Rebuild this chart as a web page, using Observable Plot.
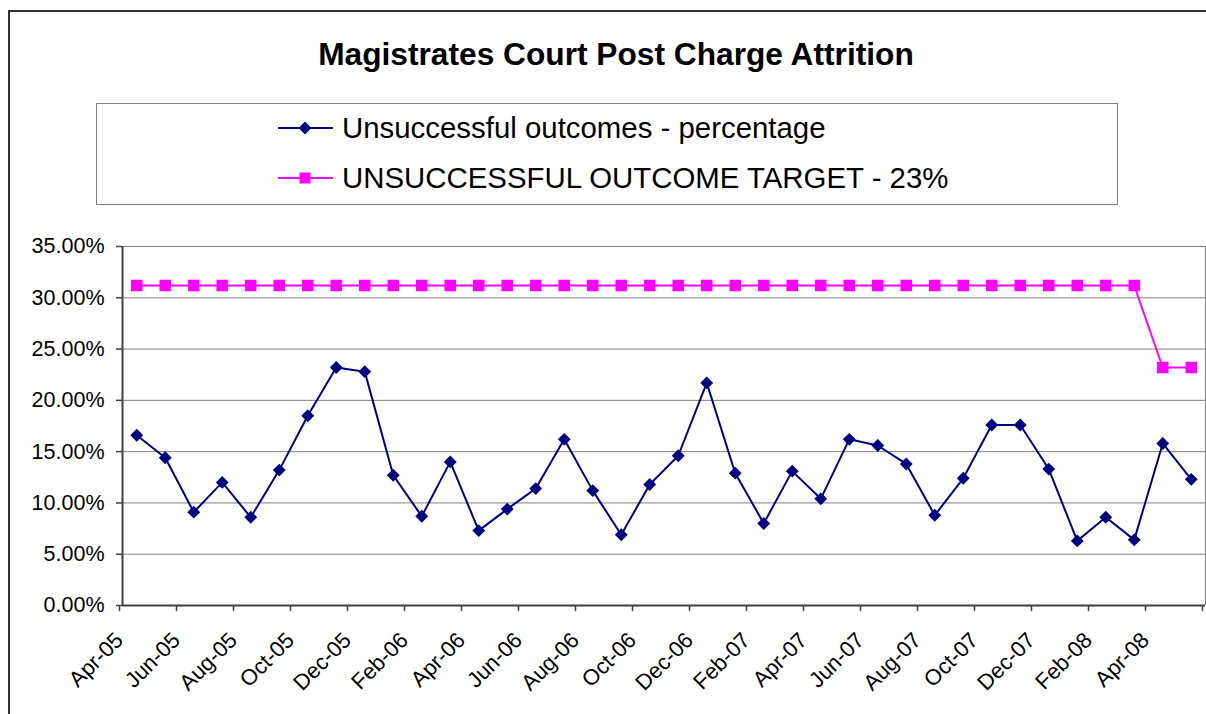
<!DOCTYPE html>
<html>
<head>
<meta charset="utf-8">
<script src="https://cdn.jsdelivr.net/npm/d3@7"></script>
<script src="https://cdn.jsdelivr.net/npm/@observablehq/plot@0.6"></script>
<style>
  html, body { margin: 0; padding: 0; background: #fff; }
  body { width: 1206px; height: 714px; overflow: hidden; position: relative; font-family: "Liberation Sans", Arial, sans-serif; }
  #frame { position: absolute; left: 8px; top: 10px; width: 1300px; height: 800px; border-left: 2px solid #333; border-top: 2px solid #333; box-sizing: border-box; }
  #title { position: absolute; left: 0; width: 1232px; top: 36px; line-height: 36px; font-size: 31.7px; font-weight: bold; text-align: center; color: #000; }
  #legend { position: absolute; left: 96px; top: 103px; width: 1022px; height: 102px; border: 1px solid #808080; box-sizing: border-box; }
  .item { position: absolute; left: 181px; height: 40px; display: flex; align-items: center; font-size: 29.4px; color: #000; white-space: nowrap; }
  .item svg { margin-right: 9px; }
  #chart { position: absolute; left: 0; top: 220px; }
</style>
</head>
<body>
<div id="frame"></div>
<div id="title">Magistrates Court Post Charge Attrition</div>
<div id="legend"></div>
<div id="chart"></div>
<script>
// ---- data ----
const months = [
  "Apr-05","May-05","Jun-05","Jul-05","Aug-05","Sep-05","Oct-05","Nov-05","Dec-05",
  "Jan-06","Feb-06","Mar-06","Apr-06","May-06","Jun-06","Jul-06","Aug-06","Sep-06","Oct-06","Nov-06","Dec-06",
  "Jan-07","Feb-07","Mar-07","Apr-07","May-07","Jun-07","Jul-07","Aug-07","Sep-07","Oct-07","Nov-07","Dec-07",
  "Jan-08","Feb-08","Mar-08","Apr-08","May-08"
];
const outcomes = [
  16.6, 14.4, 9.1, 12.0, 8.6, 13.2, 18.5, 23.2, 22.8,
  12.7, 8.7, 14.0, 7.3, 9.4, 11.4, 16.2, 11.2, 6.9, 11.8, 14.6, 21.7,
  12.9, 8.0, 13.1, 10.4, 16.2, 15.6, 13.8, 8.8, 12.4, 17.6, 17.6, 13.3,
  6.3, 8.6, 6.4, 15.8, 12.3
];
const target = [
  31.2, 31.2, 31.2, 31.2, 31.2, 31.2, 31.2, 31.2, 31.2,
  31.2, 31.2, 31.2, 31.2, 31.2, 31.2, 31.2, 31.2, 31.2, 31.2, 31.2, 31.2,
  31.2, 31.2, 31.2, 31.2, 31.2, 31.2, 31.2, 31.2, 31.2, 31.2, 31.2, 31.2,
  31.2, 31.2, 31.2, 23.2, 23.2
];
const yTicks = [0, 0.05, 0.10, 0.15, 0.20, 0.25, 0.30, 0.35];
const tickLabels = ["Apr-05","Jun-05","Aug-05","Oct-05","Dec-05","Feb-06","Apr-06","Jun-06","Aug-06","Oct-06",
  "Dec-06","Feb-07","Apr-07","Jun-07","Aug-07","Oct-07","Dec-07","Feb-08","Apr-08"];
const seriesNames = ["Unsuccessful outcomes - percentage", "UNSUCCESSFUL OUTCOME TARGET - 23%"];
const colors = ["#000080", "#FF00FF"];

// ---- build table ----
const outcomeData = months.map((m, i) => ({i, month: m, v: outcomes[i] / 100}));
const targetData = months.map((m, i) => ({i, month: m, v: target[i] / 100}));
// category boundaries: tick every two months, plus the closing boundary
const boundaryTicks = d3.range(0, months.length + 1, 2).map(i => i - 0.5);
const labelAt = t => { const k = (t + 0.5) / 2; return tickLabels[k] ?? ""; };

// ---- legend ----
const legend = document.getElementById("legend");
seriesNames.forEach((name, k) => {
  const div = document.createElement("div");
  div.className = "item";
  div.style.top = (k === 0 ? 4 : 54) + "px";
  const marker = k === 0
    ? `<path d="M27,13.5 L33.5,20 L27,26.5 L20.5,20 Z" fill="${colors[0]}"/>`
    : `<rect x="21.5" y="14.5" width="11" height="11" fill="${colors[1]}"/>`;
  div.innerHTML = `<svg width="55" height="40"><line x1="0" x2="55" y1="20" y2="20" stroke="${colors[k]}" stroke-width="2"/>${marker}</svg><span>${name}</span>`;
  legend.appendChild(div);
});

// ---- chart ----
const chart = Plot.plot({
  width: 1206,
  height: 494,
  marginLeft: 122,
  marginRight: 1,
  marginTop: 26,
  marginBottom: 109,
  style: {fontFamily: "'Liberation Sans', Arial, sans-serif", background: "transparent", overflow: "visible"},
  x: {type: "linear", domain: [-0.5, months.length - 0.5]},
  y: {domain: [0, 0.35]},
  marks: [
    Plot.gridY(yTicks, {stroke: "#808080", strokeOpacity: 1, strokeWidth: 1}),
    Plot.ruleX([months.length - 0.5], {stroke: "#808080", strokeWidth: 1}),
    Plot.axisY({ticks: yTicks, tickFormat: d3.format(".2%"), tickSize: 6, tickPadding: 12,
      fontSize: 21.5, stroke: "#404040", strokeWidth: 1.5, color: "#000", label: null}),
    Plot.axisX({ticks: boundaryTicks, tickFormat: labelAt, tickSize: 6, tickPadding: 25, dx: -3,
      tickRotate: -45, fontSize: 22, stroke: "#404040", strokeWidth: 1.5, label: null}),
    Plot.ruleX([-0.5], {stroke: "#404040", strokeWidth: 2}),
    Plot.ruleY([0], {stroke: "#404040", strokeWidth: 2}),
    Plot.line(targetData, {x: "i", y: "v", stroke: colors[1], strokeWidth: 2}),
    Plot.dot(targetData, {x: "i", y: "v", symbol: "square", r: 6.5, fill: colors[1], stroke: "none"}),
    Plot.line(outcomeData, {x: "i", y: "v", stroke: colors[0], strokeWidth: 2}),
    Plot.dot(outcomeData, {x: "i", y: "v", symbol: "diamond2", r: 5.8, fill: colors[0], stroke: "none"})
  ]
});
document.getElementById("chart").appendChild(chart);
</script>
</body>
</html>
